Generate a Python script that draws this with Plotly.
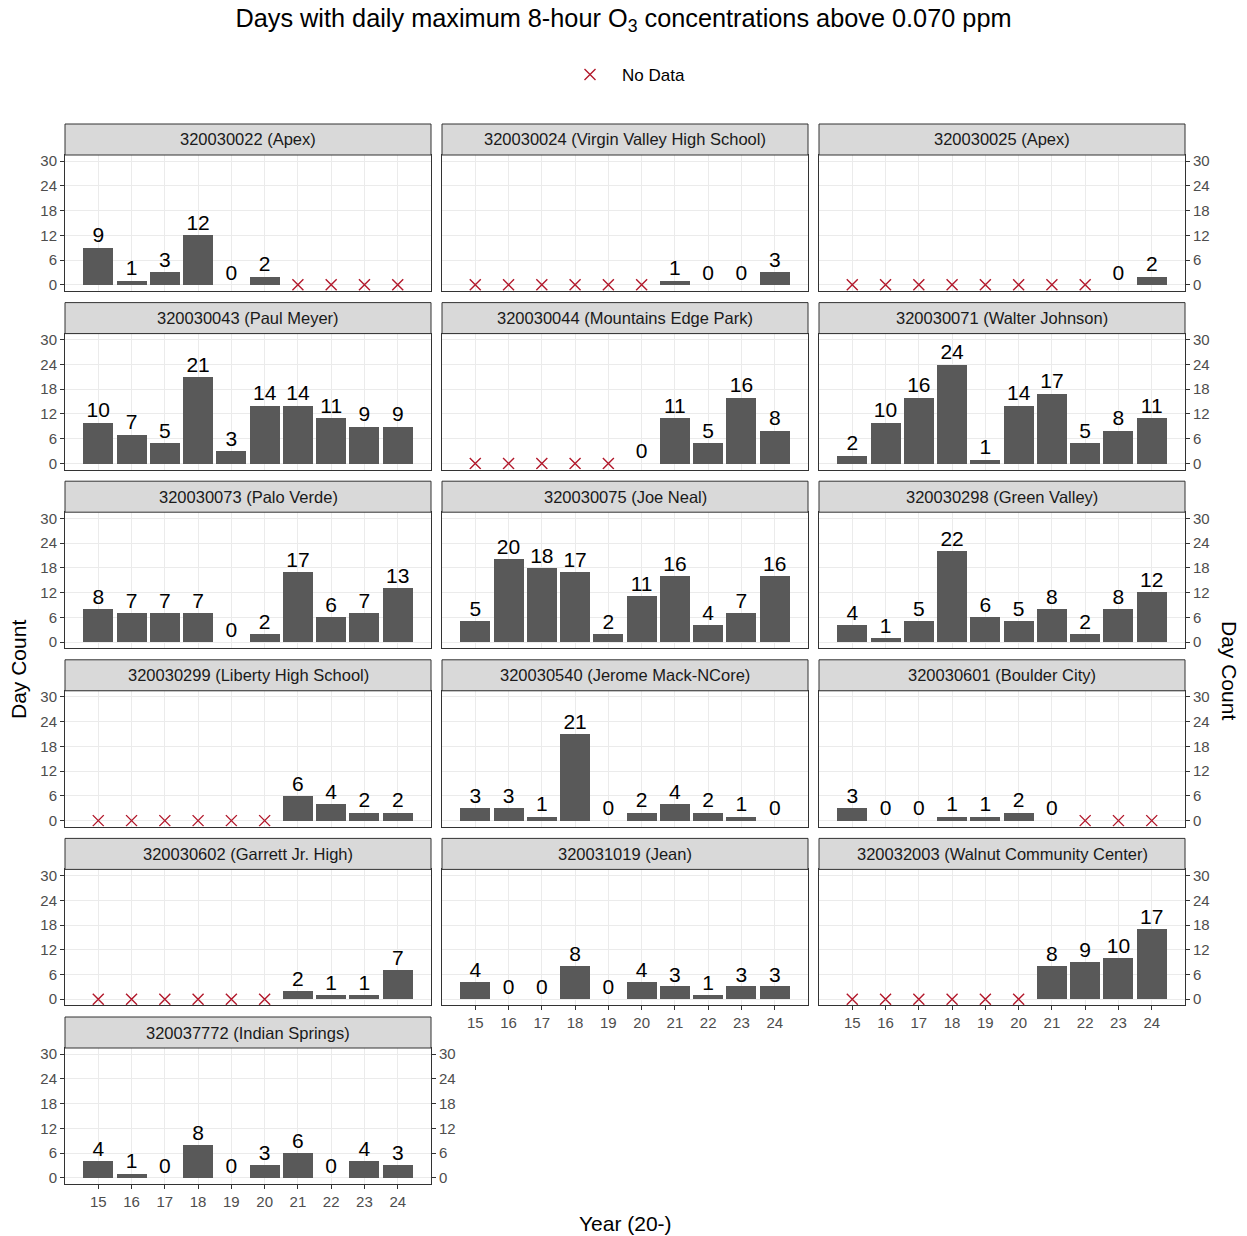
import plotly.graph_objects as go

# Years (20-) shown on every panel
years = [15, 16, 17, 18, 19, 20, 21, 22, 23, 24]

# Monitoring sites, in facet order
site_ids = ["320030022", "320030024", "320030025", "320030043", "320030044",
            "320030071", "320030073", "320030075", "320030298", "320030299",
            "320030540", "320030601", "320030602", "320031019", "320032003",
            "320037772"]
site_names = ["Apex", "Virgin Valley High School", "Apex", "Paul Meyer",
              "Mountains Edge Park", "Walter Johnson", "Palo Verde", "Joe Neal",
              "Green Valley", "Liberty High School", "Jerome Mack-NCore",
              "Boulder City", "Garrett Jr. High", "Jean",
              "Walnut Community Center", "Indian Springs"]

# Day counts per site (None = no data for that year)
apex_0022 = [9, 1, 3, 12, 0, 2, None, None, None, None]
virgin_valley = [None, None, None, None, None, None, 1, 0, 0, 3]
apex_0025 = [None, None, None, None, None, None, None, None, 0, 2]
paul_meyer = [10, 7, 5, 21, 3, 14, 14, 11, 9, 9]
mountains_edge = [None, None, None, None, None, 0, 11, 5, 16, 8]
walter_johnson = [2, 10, 16, 24, 1, 14, 17, 5, 8, 11]
palo_verde = [8, 7, 7, 7, 0, 2, 17, 6, 7, 13]
joe_neal = [5, 20, 18, 17, 2, 11, 16, 4, 7, 16]
green_valley = [4, 1, 5, 22, 6, 5, 8, 2, 8, 12]
liberty_high = [None, None, None, None, None, None, 6, 4, 2, 2]
jerome_mack = [3, 3, 1, 21, 0, 2, 4, 2, 1, 0]
boulder_city = [3, 0, 0, 1, 1, 2, 0, None, None, None]
garrett_jr = [None, None, None, None, None, None, 2, 1, 1, 7]
jean = [4, 0, 0, 8, 0, 4, 3, 1, 3, 3]
walnut_cc = [None, None, None, None, None, None, 8, 9, 10, 17]
indian_springs = [4, 1, 0, 8, 0, 3, 6, 0, 4, 3]

site_counts = [apex_0022, virgin_valley, apex_0025, paul_meyer, mountains_edge,
               walter_johnson, palo_verde, joe_neal, green_valley, liberty_high,
               jerome_mack, boulder_city, garrett_jr, jean, walnut_cc,
               indian_springs]

y_ticks = [0, 6, 12, 18, 24, 30]

FONT = "Liberation Sans, Arial, sans-serif"
BAR = "#595959"
NODATA = "#b2182b"
GRID = "#ebebeb"
BORDER = "#333333"
TICKFONT = dict(family=FONT, size=15, color="#4d4d4d")

W, H = 1247, 1236
ML, MR, MT, MB = 65, 62, 124, 52
PW, PH = W - ML - MR, H - MT - MB

col_left = [65, 442, 819]
col_w = 366
row_step = 178.6
strip_h = 31
panel_h = 136

# bottom panel of each column carries the x tick labels
bottom_row = {0: 5, 1: 4, 2: 4}


def fx(px):
    return (px - ML) / PW


def fy(py):
    return 1 - (py - MT) / PH


fig = go.Figure()
layout = {}
shapes = []
annotations = []
legend_shown = False

for i, (sid, name, counts) in enumerate(zip(site_ids, site_names, site_counts)):
    r, c = divmod(i, 3)
    n = i + 1
    xa = "x" if n == 1 else f"x{n}"
    ya = "y" if n == 1 else f"y{n}"
    strip_top = MT + r * row_step
    p_top = strip_top + strip_h
    p_bot = strip_top + strip_h + panel_h
    x0, x1 = fx(col_left[c]), fx(col_left[c] + col_w)
    y0, y1 = fy(p_bot), fy(p_top)

    bx = [yr for yr, v in zip(years, counts) if v is not None]
    bv = [v for v in counts if v is not None]
    nx = [yr for yr, v in zip(years, counts) if v is None]

    fig.add_trace(go.Bar(x=bx, y=bv, width=0.9, marker=dict(color=BAR, line=dict(width=0)),
                         xaxis=xa, yaxis=ya, showlegend=False, hoverinfo="x+y"))
    fig.add_trace(go.Scatter(x=bx, y=bv, mode="text", text=[str(v) for v in bv],
                             textposition="top center",
                             textfont=dict(family=FONT, size=21, color="#000000"),
                             xaxis=xa, yaxis=ya, showlegend=False, hoverinfo="skip"))
    if nx:
        fig.add_trace(go.Scatter(x=nx, y=[0] * len(nx), mode="markers", name="No Data",
                                 marker=dict(symbol="x-thin", size=11,
                                             line=dict(color=NODATA, width=1.4)),
                                 xaxis=xa, yaxis=ya, showlegend=not legend_shown))
        legend_shown = True

    is_bottom = (r == bottom_row[c])
    key_x = "xaxis" if n == 1 else f"xaxis{n}"
    key_y = "yaxis" if n == 1 else f"yaxis{n}"
    layout[key_x] = dict(
        domain=[x0, x1], anchor=ya, range=[14, 25], tickvals=years,
        ticktext=[str(y) for y in years], showticklabels=is_bottom,
        ticks="outside" if is_bottom else "", ticklen=4, tickcolor=BORDER,
        showgrid=True, gridcolor=GRID, gridwidth=1, zeroline=False,
        showline=True, mirror=True, linecolor=BORDER, linewidth=1,
        tickfont=TICKFONT, fixedrange=True)
    side_ticks = c in (0, 2)
    layout[key_y] = dict(
        domain=[y0, y1], anchor=xa, range=[-1.5, 31.5], tickvals=y_ticks,
        side="left" if c == 0 else "right", showticklabels=side_ticks,
        ticks="outside" if side_ticks else "", ticklen=4, tickcolor=BORDER,
        showgrid=True, gridcolor=GRID, gridwidth=1, zeroline=False,
        showline=True, mirror=True, linecolor=BORDER, linewidth=1,
        tickfont=TICKFONT, fixedrange=True)

    # facet strip
    shapes.append(dict(type="rect", xref="paper", yref="paper", x0=x0, x1=x1,
                       y0=y1, y1=fy(strip_top), fillcolor="#d9d9d9",
                       line=dict(color=BORDER, width=1), layer="above"))
    annotations.append(dict(xref="paper", yref="paper", x=(x0 + x1) / 2,
                            y=(y1 + fy(strip_top)) / 2, text=f"{sid} ({name})",
                            showarrow=False, xanchor="center", yanchor="middle",
                            font=dict(family=FONT, size=16.5, color="#1a1a1a")))

# secondary (right) axis for the last panel
layout["yaxis17"] = dict(
    overlaying="y16", anchor="x16", side="right", range=[-1.5, 31.5],
    tickvals=y_ticks, ticks="outside", ticklen=4, tickcolor=BORDER,
    showgrid=False, zeroline=False, showline=False, tickfont=TICKFONT,
    fixedrange=True)
fig.add_trace(go.Scatter(x=[15], y=[0], mode="markers", marker=dict(opacity=0),
                         xaxis="x16", yaxis="y17", showlegend=False, hoverinfo="skip"))

# axis titles
TITLEFONT = dict(family=FONT, size=21, color="#000000")
annotations += [
    dict(xref="paper", yref="paper", x=fx(18), y=fy(670), text="Day Count",
         textangle=-90, showarrow=False, xanchor="center", yanchor="middle",
         font=TITLEFONT),
    dict(xref="paper", yref="paper", x=fx(1230), y=fy(670), text="Day Count",
         textangle=90, showarrow=False, xanchor="center", yanchor="middle",
         font=TITLEFONT),
    dict(xref="paper", yref="paper", x=fx(625), y=fy(1223), text="Year (20-)",
         showarrow=False, xanchor="center", yanchor="middle", font=TITLEFONT),
]

fig.update_layout(
    **layout,
    width=W, height=H,
    margin=dict(l=ML, r=MR, t=MT, b=MB),
    paper_bgcolor="white", plot_bgcolor="white",
    bargap=0,
    title=dict(text="Days with daily maximum 8-hour O<sub>3</sub> concentrations above 0.070 ppm",
               x=0.5, xanchor="center", y=1 - 18 / H, yanchor="middle",
               font=dict(family=FONT, size=25.3, color="#000000")),
    legend=dict(orientation="h", x=fx(624), xanchor="center", y=fy(75), yanchor="middle",
                itemwidth=54,
                font=dict(family=FONT, size=17, color="#000000"), bgcolor="rgba(0,0,0,0)"),
    shapes=shapes, annotations=annotations,
)

fig.write_html("out.html")
